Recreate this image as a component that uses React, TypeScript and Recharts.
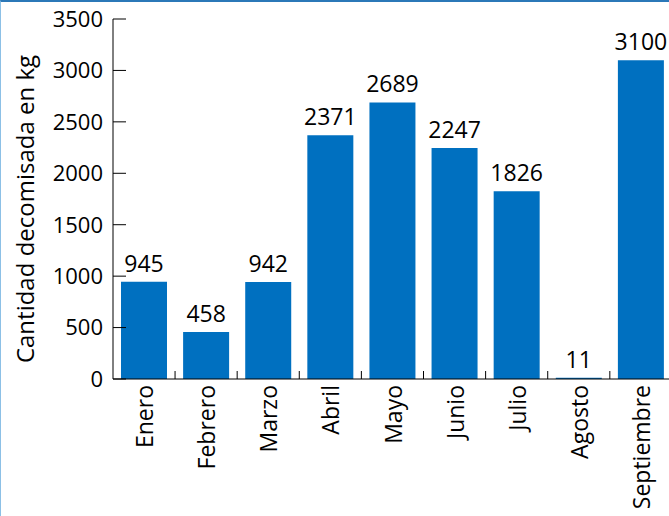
import { BarChart, Bar, XAxis, YAxis, LabelList } from 'recharts'

// datos del gráfico
const meses = ['Enero', 'Febrero', 'Marzo', 'Abril', 'Mayo', 'Junio', 'Julio', 'Agosto', 'Septiembre']
const cantidades = [945, 458, 942, 2371, 2689, 2247, 1826, 11, 3100]
const yTicks = [0, 500, 1000, 1500, 2000, 2500, 3000, 3500]

const data = meses.map((mes, i) => ({ mes, kg: cantidades[i] }))

const FONT = '"Open Sans", sans-serif'
const HALF_BAND = 31

// tick del eje X: texto vertical y marca entre categorías
function MesTick(props: any) {
  const { x, y, payload, index } = props
  const axisY = y - 8
  return (
    <g>
      {index < meses.length - 1 && (
        <line x1={x + HALF_BAND} x2={x + HALF_BAND} y1={axisY} y2={axisY - 8} stroke="#000" strokeWidth={1} />
      )}
      <text
        x={x}
        y={axisY + 6}
        transform={`rotate(-90, ${x}, ${axisY + 6})`}
        textAnchor="end"
        dominantBaseline="central"
        fontFamily={FONT}
        fontSize={23}
        fill="#000"
      >
        {payload.value}
      </text>
    </g>
  )
}

function EjeYLabel(props: any) {
  const { viewBox } = props
  const cx = 23
  const cy = viewBox.y + viewBox.height / 2 + 10
  return (
    <text
      x={cx}
      y={cy}
      transform={`rotate(-90, ${cx}, ${cy})`}
      textAnchor="middle"
      dominantBaseline="central"
      fontFamily={FONT}
      fontSize={24}
      fill="#000"
    >
      Cantidad decomisada en kg
    </text>
  )
}

export default function App() {
  return (
    <div
      style={{
        position: 'absolute',
        left: 0,
        top: 0,
        width: 669,
        height: 516,
        overflow: 'hidden',
        background: '#fff',
        borderTop: '2px solid #2b78b8',
        borderLeft: '1px solid #8cc0e6',
        boxSizing: 'border-box',
      }}
    >
      <BarChart
        width={671}
        height={514}
        data={data}
        margin={{ top: 17, right: 0, bottom: 0, left: -1 }}
        barCategoryGap={8}
      >
        <XAxis
          dataKey="mes"
          height={137}
          interval={0}
          tickLine={false}
          axisLine={{ stroke: '#000' }}
          tick={<MesTick />}
        />
        <YAxis
          width={113}
          domain={[0, 3500]}
          ticks={yTicks}
          interval={0}
          tickSize={-13}
          tickMargin={23}
          tickLine={{ stroke: '#000' }}
          axisLine={{ stroke: '#000' }}
          tick={{ fill: '#000', fontSize: 22, fontFamily: FONT }}
          label={<EjeYLabel />}
        />
        <Bar dataKey="kg" fill="#0070c0" isAnimationActive={false}>
          <LabelList dataKey="kg" position="top" offset={10} fill="#000" fontSize={23} fontFamily={FONT} />
        </Bar>
      </BarChart>
    </div>
  )
}
